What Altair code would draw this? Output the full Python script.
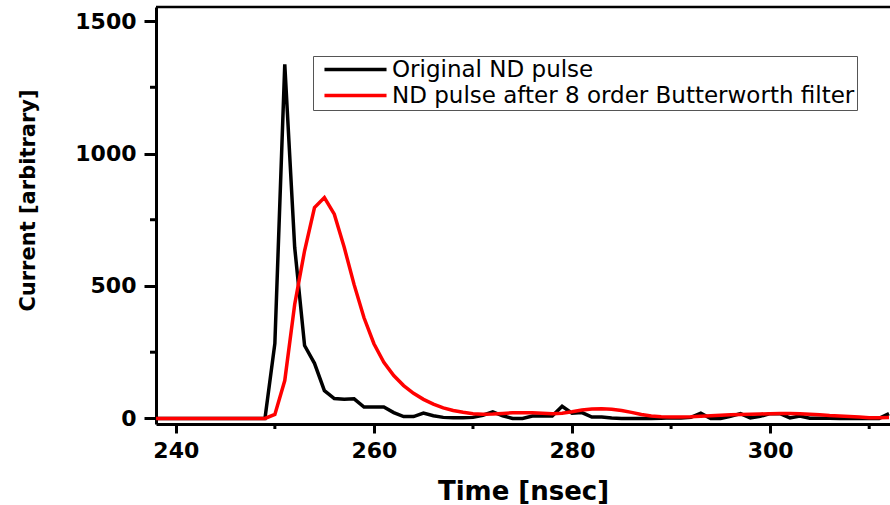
import altair as alt
import pandas as pd

# sample times (ns)
times = list(range(238, 313))

original = [
    0, 0, 0, 0, 0, 0, 0, 0, 0, 0, 0, 0,
    283, 1337, 646, 275, 208, 105, 75, 72, 74, 43,
    43, 43, 22, 7, 7, 20, 10, 4, 3, 3,
    4, 12, 25, 10, 0, 0, 9, 9, 9, 46,
    20, 22, 5, 5, 2, 0, 0, 0, 0, 1,
    3, 2, 4, 20, 0, 0, 8, 18, 2, 8,
    18, 18, 2, 9, 1, 1, 1, 0, 0, 1,
    0, 0, 18,
]

filtered = [
    0, 0, 0, 0, 0, 0, 0, 0, 0, 0, 0, 0,
    15, 143, 430, 633, 796, 834, 771, 646, 505, 380,
    282, 212, 162, 124, 95, 72, 54, 40, 30, 23,
    18, 16, 17, 19, 21, 21, 21, 20, 18, 20,
    25, 32, 36, 37, 35, 30, 23, 15, 9, 6,
    5, 5, 6, 8, 10, 12, 14, 15, 16, 17,
    18, 19, 19, 18, 16, 14, 11, 9, 7, 5,
    3, 3, 4,
]

series_names = ["Original ND pulse", "ND pulse after 8 order Butterworth filter"]
series_colors = ["#000000", "#ff0000"]

x_major = [240, 260, 280, 300]
x_minor = [250, 270, 290, 310]
y_major = [0, 500, 1000, 1500]
y_minor = [250, 750, 1250]

n = len(times)
df = pd.DataFrame({
    "t": times + times,
    "v": original + filtered,
    "s": [series_names[0]] * n + [series_names[1]] * n,
})

W, H = 734, 417
FONT = "DejaVu Sans"

x_enc = alt.X(
    "t:Q",
    scale=alt.Scale(domain=[238, 312.1], nice=False, zero=False),
    axis=alt.Axis(
        values=x_major,
        title="Time [nsec]",
        tickSize=9,
        labelPadding=7,
        labelFontSize=22,
        titleFontSize=26,
        titlePadding=17,
        grid=False,
    ),
)

y_enc = alt.Y(
    "v:Q",
    scale=alt.Scale(domain=[-21, 1553], nice=False, zero=False),
    axis=alt.Axis(
        values=y_major,
        format="d",
        title="Current [arbitrary]",
        tickSize=12,
        labelPadding=8,
        labelFontSize=22,
        titleFontSize=21,
        titlePadding=36,
        titleY=193,
        grid=False,
    ),
)

color_enc = alt.Color(
    "s:N",
    scale=alt.Scale(domain=series_names, range=series_colors),
    legend=alt.Legend(
        orient="none",
        legendX=157,
        legendY=49,
        title=None,
        labelFont=FONT,
        labelFontSize=23,
        labelFontWeight="normal",
        labelColor="black",
        labelLimit=0,
        labelOffset=25,
        symbolType="M-6,0H6",
        symbolSize=107,
        symbolStrokeWidth=3.5,
        symbolOffset=29,
        rowPadding=2,
        padding=2,
        strokeColor="#555555",
        fillColor="white",
        cornerRadius=0,
    ),
)

base = alt.Chart(df)
black = base.transform_filter(alt.datum.s == series_names[0]).mark_line(strokeWidth=3.5).encode(
    x=x_enc, y=y_enc, color=color_enc
)
red = base.transform_filter(alt.datum.s == series_names[1]).mark_line(strokeWidth=3.5).encode(
    x=x_enc, y=y_enc, color=color_enc
)
top = alt.Chart(pd.DataFrame({"a": [0]})).mark_rule(color="black", strokeWidth=2.5).encode(
    x=alt.value(0), x2=alt.value(W), y=alt.value(0)
)
x_minor_ticks = alt.Chart(pd.DataFrame({"t": x_minor})).mark_rule(color="black", strokeWidth=3).encode(
    x=x_enc, y=alt.value(H), y2=alt.value(H + 5)
)
y_minor_ticks = alt.Chart(pd.DataFrame({"v": y_minor})).mark_rule(color="black", strokeWidth=3).encode(
    y=y_enc, x=alt.value(0), x2=alt.value(-6)
)

chart = (
    alt.layer(black, red, top, x_minor_ticks, y_minor_ticks)
    .properties(
        width=W,
        height=H,
        padding={"left": 156, "top": 7, "right": 0, "bottom": 81},
        autosize=alt.AutoSizeParams(type="none"),
        background="white",
    )
    .configure_view(stroke=None)
    .configure_axis(
        domainColor="black",
        domainWidth=3,
        tickColor="black",
        tickWidth=3,
        labelColor="black",
        labelFont=FONT,
        labelFontWeight="bold",
        titleColor="black",
        titleFont=FONT,
        titleFontWeight="bold",
    )
)

chart.save("out.html", embed_options={"renderer": "svg", "actions": False})
